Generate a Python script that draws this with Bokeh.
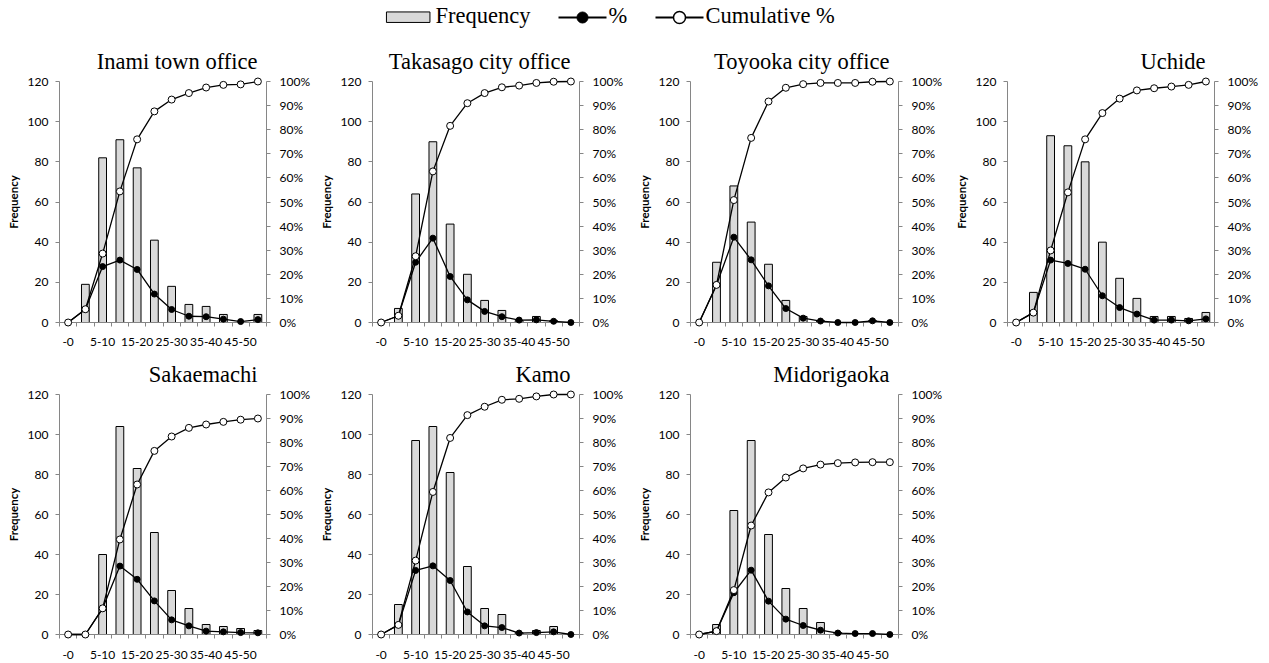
from bokeh.plotting import figure
from bokeh.models import Range1d, LinearAxis, FixedTicker, PrintfTickFormatter, ColumnDataSource
from bokeh.layouts import column, row
from bokeh.core.properties import value
from bokeh.embed import file_html
from bokeh.resources import INLINE

# ---------------- data ----------------
categories = ["-0", "0-5", "5-10", "10-15", "15-20", "20-25", "25-30",
              "30-35", "35-40", "40-45", "45-50", "50-"]
shown_tick_labels = ["-0", "5-10", "15-20", "25-30", "35-40", "45-50"]
freq_ticks = [0, 20, 40, 60, 80, 100, 120]
pct_ticks = [0, 10, 20, 30, 40, 50, 60, 70, 80, 90, 100]

inami_freq = [0, 19, 82, 91, 77, 41, 18, 9, 8, 4, 0, 4]
inami_pct = [0, 5.5, 23.2, 25.9, 22.0, 11.8, 5.4, 2.6, 2.4, 1.4, 0.4, 1.2]
inami_cum = [0, 5.5, 28.6, 54.4, 76.0, 87.6, 92.5, 95.2, 97.5, 98.6, 98.8, 100]

takasago_freq = [0, 7, 64, 90, 49, 24, 11, 6, 1, 3, 1, 0]
takasago_pct = [0, 2.8, 25.0, 35.0, 19.1, 9.4, 4.6, 2.4, 1.0, 1.1, 0.5, 0]
takasago_cum = [0, 2.8, 27.5, 62.7, 81.6, 91.0, 95.2, 97.6, 98.3, 99.4, 99.9, 100]

toyooka_freq = [0, 30, 68, 50, 29, 11, 3, 1, 0, 0, 1, 0]
toyooka_pct = [0, 15.6, 35.4, 26.0, 15.2, 5.8, 1.8, 0.6, 0, 0, 0.7, 0]
toyooka_cum = [0, 15.6, 50.8, 76.6, 91.7, 97.4, 98.9, 99.4, 99.4, 99.4, 99.9, 100]

uchide_freq = [0, 15, 93, 88, 80, 40, 22, 12, 3, 3, 2, 5]
uchide_pct = [0, 4.1, 25.9, 24.5, 22.1, 11.1, 6.2, 3.5, 1.0, 1.0, 0.7, 1.5]
uchide_cum = [0, 4.1, 29.9, 54.0, 76.0, 86.9, 92.9, 96.3, 97.2, 97.9, 98.6, 100]

sakaemachi_freq = [0, 0, 40, 104, 83, 51, 22, 13, 5, 4, 3, 2]
sakaemachi_pct = [0, 0, 10.9, 28.5, 23.0, 14.0, 6.1, 3.6, 1.4, 1.1, 0.8, 0.7]
sakaemachi_cum = [0, 0, 10.9, 39.6, 62.5, 76.5, 82.5, 86.1, 87.5, 88.6, 89.5, 90.0]

kamo_freq = [0, 15, 97, 104, 81, 34, 13, 10, 1, 2, 4, 0]
kamo_pct = [0, 4.0, 26.7, 28.6, 22.5, 9.4, 3.6, 2.9, 0.6, 0.8, 1.1, 0]
kamo_cum = [0, 4.0, 30.8, 59.4, 81.9, 91.4, 94.9, 97.8, 98.2, 99.2, 100, 100]

midorigaoka_freq = [0, 5, 62, 97, 50, 23, 13, 6, 1, 0, 0, 0]
midorigaoka_pct = [0, 1.4, 17.4, 26.8, 13.9, 6.4, 3.75, 1.8, 0.6, 0.4, 0.4, 0]
midorigaoka_cum = [0, 1.4, 18.5, 45.4, 59.2, 65.4, 69.2, 70.8, 71.4, 71.7, 71.8, 71.8]

panel_names = ["Inami town office", "Takasago city office", "Toyooka city office", "Uchide",
               "Sakaemachi", "Kamo", "Midorigaoka"]
legend_labels = ["Frequency", "%", "Cumulative %"]

# ---------------- style ----------------
AXIS_GRAY = "#868686"
BAR_FILL = "#d9d9d9"
SANS = "Lato"
SERIF = "Liberation Serif"

# (figure width, left border, right border) per column
col_geom = [(312, 59, 45), (313, 60, 45), (319, 65, 45), (317, 63, 47)]
# (height, top border, bottom border, x label standoff, title standoff) per row
row_geom = [(322, 51, 30, 11, 15), (310, 41, 28, 12, 15)]


def make_panel(name, freq, pct, cum, col, rw):
    fw, bl, br = col_geom[col]
    fh, bt, bb, xstand, tstand = row_geom[rw]
    p = figure(width=fw, height=fh, output_backend="svg", toolbar_location=None,
               x_range=Range1d(-0.5, len(categories) - 0.5), y_range=Range1d(0, 120),
               x_axis_type=None, y_axis_type=None,
               min_border_left=bl, min_border_right=br,
               min_border_top=bt, min_border_bottom=bb, title=name)
    p.outline_line_color = None
    p.background_fill_color = "white"
    p.border_fill_color = "white"
    p.extra_y_ranges = {"pct": Range1d(0, 100)}

    p.title.align = "right"
    p.title.offset = 9
    p.title.standoff = tstand
    p.title.text_font = SERIF
    p.title.text_font_size = "22.5px"
    p.title.text_font_style = "normal"
    p.title.text_color = "black"

    src = ColumnDataSource(dict(x=list(range(len(categories))), cat=categories,
                                freq=freq, pct=pct, cum=cum))
    p.vbar(x="x", top="freq", bottom=0, width=0.45, source=src,
           fill_color=BAR_FILL, line_color="black", line_width=1)
    l1 = p.line("x", "pct", source=src, y_range_name="pct", line_color="black", line_width=1.3)
    s1 = p.scatter("x", "pct", source=src, y_range_name="pct", size=6,
                   fill_color="black", line_color="black")
    l2 = p.line("x", "cum", source=src, y_range_name="pct", line_color="black", line_width=1.3)
    s2 = p.scatter("x", "cum", source=src, y_range_name="pct", size=7,
                   fill_color="white", line_color="black", line_width=1)
    for r in (l1, s1, l2, s2):
        r.level = "overlay"

    # bottom axis: labels every other category, tick marks at category boundaries
    xa = LinearAxis(ticker=FixedTicker(ticks=list(range(0, len(categories), 2)),
                                       minor_ticks=[i - 0.5 for i in range(len(categories) + 1)]),
                    major_label_overrides={i: categories[i] for i in range(0, len(categories), 2)})
    xa.axis_line_color = AXIS_GRAY
    xa.major_tick_line_color = None
    xa.major_tick_out = 0
    xa.major_tick_in = 0
    xa.minor_tick_line_color = AXIS_GRAY
    xa.minor_tick_out = 4
    xa.minor_tick_in = 0
    xa.major_label_standoff = xstand
    xa.major_label_text_font = SANS
    xa.major_label_text_font_size = "12px"
    xa.major_label_text_color = "black"
    p.add_layout(xa, "below")

    ya = LinearAxis(ticker=FixedTicker(ticks=freq_ticks), axis_label="Frequency")
    ya.axis_line_color = AXIS_GRAY
    ya.major_tick_line_color = AXIS_GRAY
    ya.major_tick_out = 4
    ya.major_tick_in = 0
    ya.minor_tick_line_color = None
    ya.major_label_standoff = 7
    ya.major_label_text_font = SANS
    ya.major_label_text_font_size = "12px"
    ya.major_label_text_color = "black"
    ya.axis_label_text_font = SANS
    ya.axis_label_text_font_size = "11.5px"
    ya.axis_label_text_font_style = "bold"
    ya.axis_label_text_color = "black"
    ya.axis_label_standoff = 5
    p.add_layout(ya, "left")

    ra = LinearAxis(y_range_name="pct", ticker=FixedTicker(ticks=pct_ticks),
                    formatter=PrintfTickFormatter(format="%d%%"))
    ra.axis_line_color = AXIS_GRAY
    ra.major_tick_line_color = AXIS_GRAY
    ra.major_tick_out = 4
    ra.major_tick_in = 0
    ra.minor_tick_line_color = None
    ra.major_label_standoff = 9
    ra.major_label_text_font = SANS
    ra.major_label_text_font_size = "12px"
    ra.major_label_text_color = "black"
    p.add_layout(ra, "right")
    return p


# ---------------- legend strip (screen-like coordinates, y measured from the bottom) ----------------
LG_W, LG_H = 1261, 30
lg = figure(width=LG_W, height=LG_H, output_backend="svg", toolbar_location=None,
            x_range=Range1d(0, LG_W), y_range=Range1d(0, LG_H),
            x_axis_type=None, y_axis_type=None, min_border=0)
lg.outline_line_color = None
lg.rect(x=[407.7], y=[13.3], width=43.5, height=10.5, fill_color=BAR_FILL,
        line_color="black", line_width=1)
lg.text(x=[435], y=[15], text=[legend_labels[0]], text_font=value(SERIF), text_font_size="22.5px",
        text_baseline="alphabetic", text_align="left", text_color="black")
lg.line(x=[558, 606], y=[13, 13], line_color="black", line_width=2)
lg.scatter(x=[582], y=[13], size=11, fill_color="black", line_color="black")
lg.text(x=[608], y=[15], text=[legend_labels[1]], text_font=value(SERIF), text_font_size="22.5px",
        text_baseline="alphabetic", text_align="left", text_color="black")
lg.line(x=[655, 703], y=[13, 13], line_color="black", line_width=2)
lg.scatter(x=[679], y=[13], size=12, fill_color="white", line_color="black", line_width=1.5)
lg.text(x=[705], y=[15], text=[legend_labels[2]], text_font=value(SERIF), text_font_size="22.5px",
        text_baseline="alphabetic", text_align="left", text_color="black")

# ---------------- panels ----------------
p1 = make_panel(panel_names[0], inami_freq, inami_pct, inami_cum, 0, 0)
p2 = make_panel(panel_names[1], takasago_freq, takasago_pct, takasago_cum, 1, 0)
p3 = make_panel(panel_names[2], toyooka_freq, toyooka_pct, toyooka_cum, 2, 0)
p4 = make_panel(panel_names[3], uchide_freq, uchide_pct, uchide_cum, 3, 0)
p5 = make_panel(panel_names[4], sakaemachi_freq, sakaemachi_pct, sakaemachi_cum, 0, 1)
p6 = make_panel(panel_names[5], kamo_freq, kamo_pct, kamo_cum, 1, 1)
p7 = make_panel(panel_names[6], midorigaoka_freq, midorigaoka_pct, midorigaoka_cum, 2, 1)

layout = column(lg, row(p1, p2, p3, p4), row(p5, p6, p7))

open("out.html", "w").write(file_html(layout, INLINE))
